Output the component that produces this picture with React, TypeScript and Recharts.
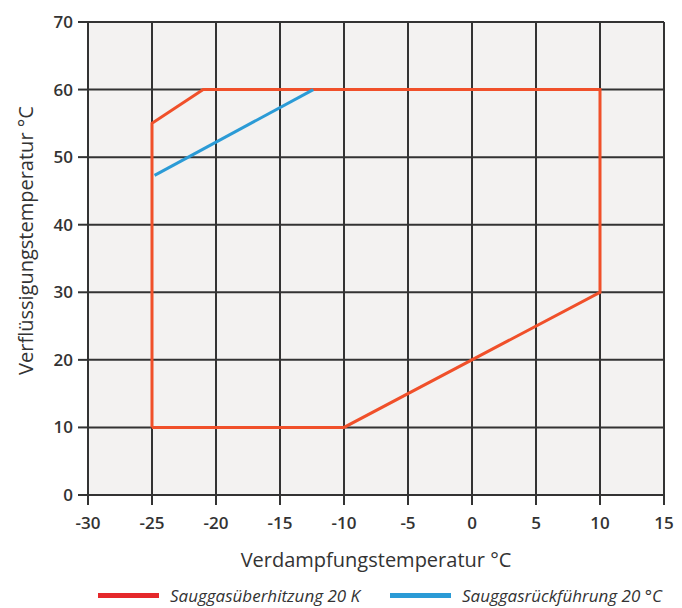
import React from 'react'
import {
  LineChart,
  Line,
  XAxis,
  YAxis,
  CartesianGrid,
  Label,
} from 'recharts'

// Einsatzgrenzen: Verdampfungs- (x) vs. Verflüssigungstemperatur (y)
const xTicks = [-30, -25, -20, -15, -10, -5, 0, 5, 10, 15]
const yTicks = [0, 10, 20, 30, 40, 50, 60, 70]

const ueberhitzungX = [-25, -10, 10, 10, -21, -25, -25]
const ueberhitzungY = [10, 10, 30, 60, 60, 55, 10]

const rueckfuehrungX = [-24.8, -12.4]
const rueckfuehrungY = [47.3, 60]

const RED = '#f0502a'
const BLUE = '#2b9bd6'
const INK = '#333333'
const FONT = '"Open Sans", "Noto Sans", sans-serif'

const redData = ueberhitzungX.map((x, i) => ({ x, y: ueberhitzungY[i] }))
const blueData = rueckfuehrungX.map((x, i) => ({ x, y: rueckfuehrungY[i] }))

function LegendItem({ color, label, left }: { color: string; label: string; left: number }) {
  return (
    <div
      style={{
        position: 'absolute',
        left,
        top: 583,
        height: 24,
        display: 'flex',
        alignItems: 'center',
        whiteSpace: 'nowrap',
      }}
    >
      <div style={{ width: 61, height: 5, background: color, marginRight: 11 }} />
      <span style={{ fontStyle: 'italic', fontSize: 17, color: INK }}>{label}</span>
    </div>
  )
}

export default function App() {
  return (
    <div
      style={{
        position: 'absolute',
        left: 0,
        top: 0,
        width: 682,
        height: 608,
        background: '#fff',
        fontFamily: FONT,
      }}
    >
      <LineChart
        width={682}
        height={608}
        margin={{ top: 22, right: 18, left: 28, bottom: 33 }}
      >
        <CartesianGrid
          fill="#f3f2f1"
          stroke={INK}
          strokeWidth={2}
          strokeOpacity={1}
        />
        <XAxis
          type="number"
          dataKey="x"
          domain={[-30, 15]}
          ticks={xTicks}
          interval={0}
          allowDataOverflow
          height={80}
          tickSize={10}
          tickMargin={12}
          tickLine={{ stroke: INK, strokeWidth: 2 }}
          axisLine={{ stroke: INK, strokeWidth: 2 }}
          tick={{ fill: INK, fontSize: 17, fontWeight: 600, fontFamily: FONT }}
        >
          <Label
            value="Verdampfungstemperatur °C"
            position="insideBottom"
            offset={8}
            style={{ fill: INK, fontSize: 20, fontFamily: FONT }}
          />
        </XAxis>
        <YAxis
          type="number"
          dataKey="y"
          domain={[0, 70]}
          ticks={yTicks}
          interval={0}
          width={60}
          tickSize={10}
          tickMargin={5}
          tickLine={{ stroke: INK, strokeWidth: 2 }}
          axisLine={{ stroke: INK, strokeWidth: 2 }}
          tick={{ fill: INK, fontSize: 17, fontWeight: 600, fontFamily: FONT }}
        >
          <Label
            value="Verflüssigungstemperatur °C"
            angle={-90}
            position="insideLeft"
            offset={-2}
            dy={-18}
            style={{ fill: INK, fontSize: 20, fontFamily: FONT, textAnchor: 'middle' }}
          />
        </YAxis>
        <Line
          data={redData}
          dataKey="y"
          type="linear"
          stroke={RED}
          strokeWidth={3}
          dot={false}
          isAnimationActive={false}
        />
        <Line
          data={blueData}
          dataKey="y"
          type="linear"
          stroke={BLUE}
          strokeWidth={3}
          dot={false}
          isAnimationActive={false}
        />
      </LineChart>
      <LegendItem color="#e5282b" label="Sauggasüberhitzung 20 K" left={98} />
      <LegendItem color={BLUE} label="Sauggasrückführung 20 °C" left={390} />
    </div>
  )
}
